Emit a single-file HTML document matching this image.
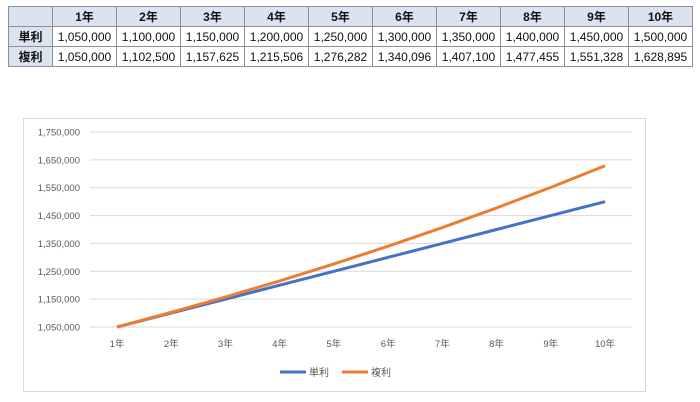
<!DOCTYPE html>
<html><head><meta charset="utf-8"><style>
body{margin:0;width:700px;height:402px;background:#fff;font-family:"Liberation Sans","Noto Sans CJK JP",sans-serif;position:relative;overflow:hidden}
table{position:absolute;left:8px;top:6px;border-collapse:collapse;font-size:12px;color:#111}
td,th{border:1px solid #8a8f99;height:19px;padding:0;text-align:center}
th{background:#dbe3f0;font-weight:bold}
td{width:63px}
th.rh{width:43px}
</style></head><body>
<table>
<tr><th class="rh"></th><th>1年</th><th>2年</th><th>3年</th><th>4年</th><th>5年</th><th>6年</th><th>7年</th><th>8年</th><th>9年</th><th>10年</th></tr>
<tr><th class="rh">単利</th><td>1,050,000</td><td>1,100,000</td><td>1,150,000</td><td>1,200,000</td><td>1,250,000</td><td>1,300,000</td><td>1,350,000</td><td>1,400,000</td><td>1,450,000</td><td>1,500,000</td></tr>
<tr><th class="rh">複利</th><td>1,050,000</td><td>1,102,500</td><td>1,157,625</td><td>1,215,506</td><td>1,276,282</td><td>1,340,096</td><td>1,407,100</td><td>1,477,455</td><td>1,551,328</td><td>1,628,895</td></tr>
</table>
<svg id="chart" width="700" height="402" style="position:absolute;left:0;top:0">
<rect x="23.5" y="118.5" width="622" height="273" fill="#fff" stroke="#d9d9d9"/>
</svg>
<script>
const categories=["1年","2年","3年","4年","5年","6年","7年","8年","9年","10年"];
const simple=[1050000,1100000,1150000,1200000,1250000,1300000,1350000,1400000,1450000,1500000];
const compound=[1050000,1102500,1157625,1215506,1276282,1340096,1407100,1477455,1551328,1628895];
const yTicks=[1050000,1150000,1250000,1350000,1450000,1550000,1650000,1750000];
const seriesNames=["単利","複利"];
const svg=document.getElementById('chart');const NS="http://www.w3.org/2000/svg";
const yMin=1050000,yMax=1750000,yTop=132,yBot=327;
const x=i=>117+i*(605-117)/(categories.length-1);
const y=v=>yBot-(v-yMin)/(yMax-yMin)*(yBot-yTop);
function mk(t,a){const e=document.createElementNS(NS,t);for(const k in a)e.setAttribute(k,a[k]);svg.appendChild(e);return e;}
yTicks.forEach(v=>{
 const g=mk('line',{x1:90,x2:632,y1:y(v),y2:y(v),stroke:'#d9d9d9'});
 
 
 const t=mk('text',{x:80,y:y(v)+3.5,'text-anchor':'end','font-size':'9.5',fill:'#595959'});
 t.textContent=v.toLocaleString('en-US');
 
 
});
categories.forEach((c,i)=>{
 const t=mk('text',{x:x(i),y:347,'text-anchor':'middle','font-size':'9.5',fill:'#595959'});
 t.textContent=c;
 
 
});
[[simple,'#4472c4','simple-line'],[compound,'#ed7d31','compound-line']].forEach(([d,col,n])=>{
 const p=mk('polyline',{points:d.map((v,i)=>x(i)+','+y(v)).join(' '),fill:'none',stroke:col,'stroke-width':3,'stroke-linejoin':'round'});
 
 
});
[[280,'#4472c4',0],[342,'#ed7d31',1]].forEach(([lx,col,i])=>{
 const l=mk('line',{x1:lx,x2:lx+26,y1:372,y2:372,stroke:col,'stroke-width':3});
 
 
 const t=mk('text',{x:lx+29,y:376,'font-size':'10',fill:'#595959'});
 t.textContent=seriesNames[i];
 
 
});
</script>
</body></html>
